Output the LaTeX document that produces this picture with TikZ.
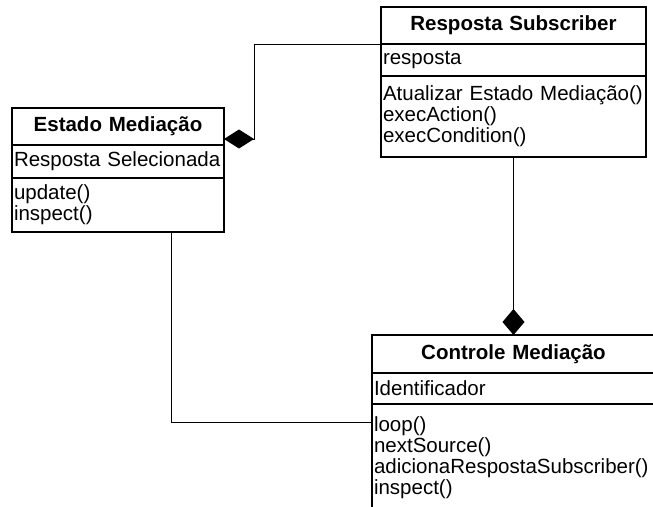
\documentclass[tikz,border=0pt]{standalone}
\usepackage{fontspec}
\setmainfont{Liberation Sans}
\usetikzlibrary{positioning,arrows.meta}

\begin{document}
\begin{tikzpicture}[x=1pt,y=-1pt,
    cls/.style={draw, line width=1.1pt, outer sep=0pt, inner xsep=2pt,
      font=\fontsize{20.5}{21}\selectfont},
    head/.style={cls, align=center, font=\fontsize{20.5}{21}\selectfont\bfseries},
    rows/.style={cls, align=left},
    link/.style={line width=1pt}]
  \useasboundingbox (0,0) rectangle (653,506);
  \clip (0,0) rectangle (653,506);

  % Estado Mediacao
  \node[head, text width=208pt, minimum height=37pt, anchor=north west] (estHead) at (12,108) {Estado Mediação};
  \node[rows, text width=208pt, minimum height=33pt, below=0pt of estHead] (estAttr) {Resposta Selecionada};
  \node[rows, text width=208pt, minimum height=54pt, below=0pt of estAttr] (estOps) {update()\\inspect()};

  % Resposta Subscriber
  \node[head, text width=261pt, minimum height=37pt, anchor=north west] (subHead) at (381,7) {Resposta Subscriber};
  \node[rows, text width=261pt, minimum height=32pt, below=0pt of subHead] (subAttr) {resposta};
  \node[rows, text width=261pt, minimum height=81pt, below=0pt of subAttr] (subOps) {Atualizar Estado Mediação()\\execAction()\\execCondition()};

  % Controle Mediacao
  \node[head, text width=279pt, minimum height=38pt, anchor=north west] (ctlHead) at (372,335) {Controle Mediação};
  \node[rows, text width=279pt, minimum height=31pt, below=0pt of ctlHead] (ctlAttr) {Identificador};
  \node[rows, text width=279pt, inner ysep=13pt, below=0pt of ctlAttr] (ctlOps) {loop()\\nextSource()\\adicionaRespostaSubscriber()\\inspect()\rule[-24pt]{0pt}{24pt}};

  \draw[link, -{Diamond[length=30pt,width=19pt]}] (subHead.south west) -| ([xshift=30pt,yshift=6pt]estHead.south east) -- ([yshift=6pt]estHead.south east);
  \draw[link, -{Diamond[length=26pt,width=22pt]}] (subOps.south) -- (ctlHead.north);
  \draw[link] ([xshift=159pt]estOps.south west) |- ([yshift=-18pt]ctlOps.north west);
\end{tikzpicture}
\end{document}
